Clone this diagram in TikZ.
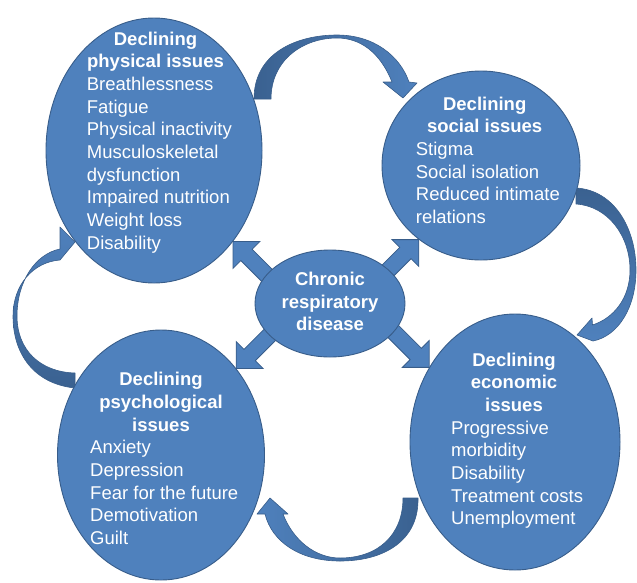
\documentclass[tikz,border=0pt]{standalone}
\usepackage{fontspec}
\setmainfont{Liberation Sans}
\usetikzlibrary{shapes.geometric}
\definecolor{bubblefill}{HTML}{4F81BD}
\definecolor{bubbleline}{HTML}{385D8A}
\definecolor{arrowdark}{HTML}{3A6190}
\tikzset{
  bubble/.style={ellipse, fill=bubblefill, draw=bubbleline, line width=0.9pt, inner sep=0pt},
  bubbletext/.style={text=white, inner sep=0pt, font=\fontsize{18.5}{22.65}\selectfont},
  titletext/.style={bubbletext, font=\fontsize{18.5}{22.65}\selectfont\bfseries, align=center, anchor=north},
  listtext/.style={bubbletext, align=left, anchor=north west},
  curvedarrow/.style={draw=bubbleline, line width=0.6pt, line join=round},
  blockarrow/.style={fill=bubblefill, draw=bubbleline, line width=0.8pt, line join=miter},
  blockarr/.pic={\path[blockarrow] (0,0) -- (-19,19) -- (-19,8) -- (-75,8) -- (-75,-8) -- (-19,-8) -- (-19,-19) -- cycle;}
}
\begin{document}
\begin{tikzpicture}[x=1pt, y=-1pt]
\useasboundingbox (0,0) rectangle (637,582);

% curved arrows (cycle)
\path[curvedarrow, left color=arrowdark, right color=bubblefill]
  (254,99) .. controls (254,52) and (298,35) .. (337,35)
  .. controls (374,35) and (400,56) .. (409,82)
  -- (417,83) -- (403,98) -- (383,82) -- (392,82)
  .. controls (380,52) and (360,38) .. (337,38)
  .. controls (303,38) and (271,60) .. (271,99) -- cycle;

\path[curvedarrow, top color=arrowdark, bottom color=bubblefill]
  (576,188) .. controls (614,190) and (636,228) .. (636,270)
  .. controls (636,308) and (618,336) .. (593,341)
  -- (577,335) -- (592,318) -- (592.5,325)
  .. controls (614,318) and (630,298) .. (630,270)
  .. controls (630,236) and (608,206) .. (576,204) -- cycle;

\path[curvedarrow, right color=arrowdark, left color=bubblefill]
  (418,498) .. controls (419,540) and (385,561) .. (340,561)
  .. controls (300,561) and (272,542) .. (265,514)
  -- (257,514) -- (270,498) -- (288,514) -- (283,514)
  .. controls (293,540) and (315,558) .. (340,558)
  .. controls (378,558) and (403,535) .. (403,498) -- cycle;

\path[curvedarrow, bottom color=arrowdark, top color=bubblefill]
  (75,388) .. controls (35,384) and (13,355) .. (13,316)
  .. controls (13,285) and (33,262) .. (60,260)
  -- (75,242) -- (60,227) -- (60,249)
  .. controls (35,254) and (17,282) .. (17,316)
  .. controls (17,350) and (40,372) .. (75,373) -- cycle;

% outer bubbles
\node[bubble, minimum width=216, minimum height=265] (phys) at (154,150.5) {};
\node[bubble, minimum width=198, minimum height=189] (soc) at (481,165.5) {};
\node[bubble, minimum width=210, minimum height=256] (econ) at (515,442) {};
\node[bubble, minimum width=207, minimum height=250] (psy) at (161,455) {};

% block arrows from the centre
\pic[rotate=135] at (phys.-49) {blockarr};
\pic[rotate=45] at (soc.230) {blockarr};
\pic[rotate=225] at (psy.49) {blockarr};
\pic[rotate=315] at (econ.139) {blockarr};

% centre bubble
\node[bubble, minimum width=150, minimum height=107] (crd) at (330,303.5) {};

% texts
\node[titletext] (physT) at (155.5,29.1) {\strut Declining\\\strut physical issues};
\node[listtext] (physL) at (86.7,74.45) {\strut Breathlessness\\\strut Fatigue\\\strut Physical inactivity\\\strut Musculoskeletal\\\strut dysfunction\\\strut Impaired nutrition\\\strut Weight loss\\\strut Disability};

\node[titletext] (socT) at (484.7,94.1) {\strut Declining\\\strut social issues};
\node[listtext] (socL) at (415.7,139.45) {\strut Stigma\\\strut Social isolation\\\strut Reduced intimate\\\strut relations};

\node[titletext] (econT) at (514,350.1) {\strut Declining\\\strut economic\\\strut issues};
\node[listtext] (econL) at (451,418.1) {\strut Progressive\\\strut morbidity\\\strut Disability\\\strut Treatment costs\\\strut Unemployment};

\node[titletext] (psyT) at (161,369.85) {\strut Declining\\\strut psychological\\\strut issues};
\node[listtext] (psyL) at (90,437.8) {\strut Anxiety\\\strut Depression\\\strut Fear for the future\\\strut Demotivation\\\strut Guilt};

\node[titletext, font=\fontsize{18.5}{22.2}\selectfont\bfseries] (crdT) at (330,270.1) {\strut Chronic\\\strut respiratory\\\strut disease};
\end{tikzpicture}
\end{document}
